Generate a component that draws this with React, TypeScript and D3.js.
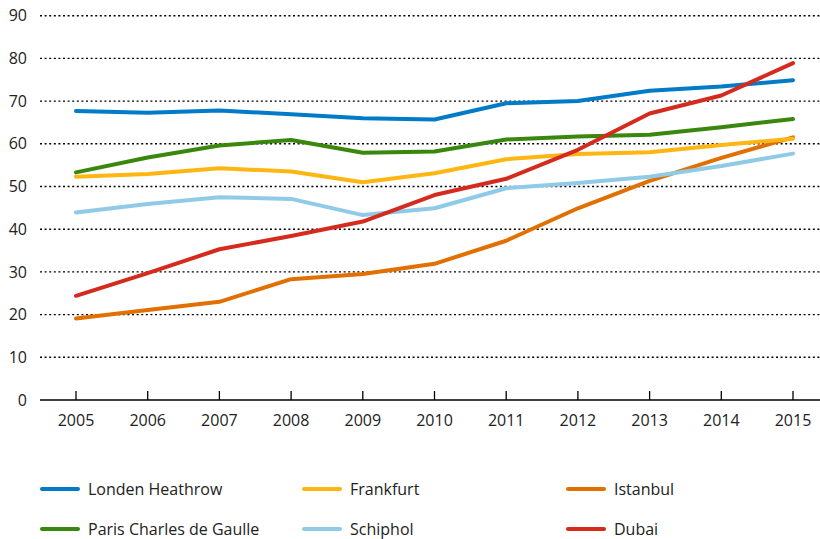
import { useEffect, useRef } from "react";
import * as d3 from "d3";

const years = [2005, 2006, 2007, 2008, 2009, 2010, 2011, 2012, 2013, 2014, 2015];
const yTicks = [0, 10, 20, 30, 40, 50, 60, 70, 80, 90];

const heathrow = [67.7, 67.3, 67.8, 66.9, 66.0, 65.7, 69.5, 70.0, 72.4, 73.4, 74.9];
const frankfurt = [52.3, 52.9, 54.3, 53.5, 51.0, 53.1, 56.4, 57.6, 58.0, 59.7, 61.2];
const istanbul = [19.1, 21.1, 23.0, 28.3, 29.5, 31.9, 37.3, 44.9, 51.3, 56.7, 61.5];
const paris = [53.3, 56.8, 59.6, 60.9, 57.9, 58.2, 61.0, 61.7, 62.1, 63.9, 65.8];
const schiphol = [43.9, 45.9, 47.5, 47.1, 43.3, 44.9, 49.6, 50.8, 52.3, 54.8, 57.7];
const dubai = [24.4, 29.7, 35.3, 38.4, 41.8, 48.0, 51.8, 58.6, 67.1, 71.3, 78.9];

// legend order: row by row, three columns
const series = [
  { name: "Londen Heathrow", values: heathrow, color: "#007bc7" },
  { name: "Frankfurt", values: frankfurt, color: "#ffb612" },
  { name: "Istanbul", values: istanbul, color: "#e17000" },
  { name: "Paris Charles de Gaulle", values: paris, color: "#39870c" },
  { name: "Schiphol", values: schiphol, color: "#8fcae7" },
  { name: "Dubai", values: dubai, color: "#d52b1e" },
];
// drawing order (last on top)
const drawOrder = ["Istanbul", "Schiphol", "Frankfurt", "Paris Charles de Gaulle", "Londen Heathrow", "Dubai"];

export default function App() {
  const svgRef = useRef<SVGSVGElement>(null);

  useEffect(() => {
    const svg = d3.select(svgRef.current);
    svg.selectAll("*").remove();

    const width = 820;
    const font = "'Open Sans', 'Noto Sans', sans-serif";

    const x = d3.scalePoint<number>().domain(years).range([76, 793]);
    const y = d3.scaleLinear().domain([0, 90]).range([400, 15.7]);

    // grid lines
    svg.append("g")
      .selectAll("line")
      .data(yTicks.filter(d => d > 0))
      .enter()
      .append("line")
      .attr("x1", 40)
      .attr("x2", width)
      .attr("y1", d => y(d))
      .attr("y2", d => y(d))
      .attr("stroke", "#000")
      .attr("stroke-width", 1.4)
      .attr("stroke-dasharray", "2,2.6");

    // y labels
    svg.append("g")
      .selectAll("text")
      .data(yTicks)
      .enter()
      .append("text")
      .attr("x", 27)
      .attr("y", d => y(d))
      .attr("dy", "0.35em")
      .attr("text-anchor", "end")
      .attr("font-family", font)
      .attr("font-size", 16)
      .attr("fill", "#222")
      .text(d => d);

    // x axis line and ticks
    svg.append("line")
      .attr("x1", 40)
      .attr("x2", width)
      .attr("y1", y(0))
      .attr("y2", y(0))
      .attr("stroke", "#000")
      .attr("stroke-width", 1.5);

    svg.append("g")
      .selectAll("line")
      .data(years)
      .enter()
      .append("line")
      .attr("x1", d => x(d)!)
      .attr("x2", d => x(d)!)
      .attr("y1", y(0) - 9)
      .attr("y2", y(0))
      .attr("stroke", "#000")
      .attr("stroke-width", 1.3);

    svg.append("g")
      .selectAll("text")
      .data(years)
      .enter()
      .append("text")
      .attr("x", d => x(d)!)
      .attr("y", 420)
      .attr("dy", "0.35em")
      .attr("text-anchor", "middle")
      .attr("font-family", font)
      .attr("font-size", 16)
      .attr("fill", "#222")
      .text(d => d);

    // lines
    const line = d3.line<number>()
      .x((_, i) => x(years[i])!)
      .y(d => y(d));

    drawOrder.forEach(name => {
      const s = series.find(s => s.name === name)!;
      svg.append("path")
        .datum(s.values)
        .attr("d", line)
        .attr("fill", "none")
        .attr("stroke", s.color)
        .attr("stroke-width", 4)
        .attr("stroke-linecap", "round")
        .attr("stroke-linejoin", "round");
    });

    // legend
    const colX = [42, 304, 568];
    const rowY = [489, 529];
    const legend = svg.append("g")
      .selectAll("g")
      .data(series)
      .enter()
      .append("g")
      .attr("transform", (_, i) => `translate(${colX[i % 3]},${rowY[Math.floor(i / 3)]})`);

    legend.append("line")
      .attr("x1", 0)
      .attr("x2", 36)
      .attr("stroke", d => d.color)
      .attr("stroke-width", 4)
      .attr("stroke-linecap", "round");

    legend.append("text")
      .attr("x", 46)
      .attr("dy", "0.35em")
      .attr("font-family", font)
      .attr("font-size", 16)
      .attr("fill", "#222")
      .text(d => d.name);
  }, []);

  return (
    <svg
      ref={svgRef}
      width={820}
      height={539}
      style={{ display: "block", position: "absolute", left: 0, top: 0 }}
    />
  );
}
